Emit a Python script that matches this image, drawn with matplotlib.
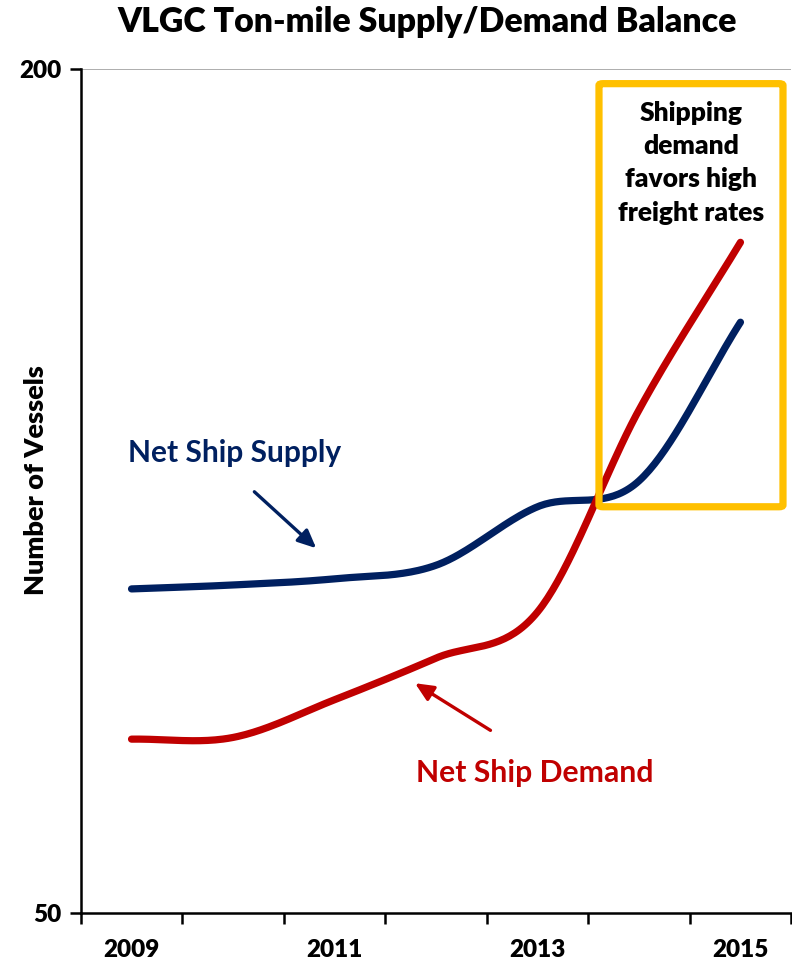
import numpy as np
import matplotlib.pyplot as plt
from matplotlib.patches import FancyBboxPatch

anos = ['2009', '2010', '2011', '2012', '2013', '2014', '2015']
oferta = [107.6, 108.3, 109.4, 111.8, 122.2, 126.8, 155.0]
demanda = [80.9, 81.2, 87.9, 95.3, 103.5, 139.4, 169.2]

azul = '#002060'
vermelho = '#C00000'
amarelo = '#FFC000'
fonte = 'Lato'
peso = 'heavy'


def suavizar(valores, passos=40):
    # curva suavizada tipo Catmull-Rom (como a linha suave do Excel)
    y = np.asarray(valores, dtype=float)
    n = len(y)
    tang = np.empty(n)
    tang[1:-1] = (y[2:] - y[:-2]) / 2
    tang[0] = y[1] - y[0]
    tang[-1] = y[-1] - y[-2]
    xs, ys = [], []
    for i in range(n - 1):
        t = np.linspace(0, 1, passos, endpoint=(i == n - 2))
        h00 = 2 * t**3 - 3 * t**2 + 1
        h10 = t**3 - 2 * t**2 + t
        h01 = -2 * t**3 + 3 * t**2
        h11 = t**3 - t**2
        xs.append(i + t)
        ys.append(h00 * y[i] + h10 * tang[i] + h01 * y[i + 1] + h11 * tang[i + 1])
    return np.concatenate(xs), np.concatenate(ys)


fig = plt.figure(figsize=(7.92, 9.64), dpi=100)
ax = fig.add_axes([0.102, 0.0529, 0.897, 0.8755])

x_o, y_o = suavizar(oferta)
x_d, y_d = suavizar(demanda)
ax.plot(x_o, y_o, color=azul, lw=5.2, solid_capstyle='round', zorder=3)
ax.plot(x_d, y_d, color=vermelho, lw=5.2, solid_capstyle='round', zorder=3)

ax.set_xlim(-0.5, len(anos) - 0.5)
ax.set_ylim(50, 200)
ax.axhline(200, color='#a0a0a0', lw=1.2, zorder=1)

# caixa amarela destacando o final do período
caixa = FancyBboxPatch((4.606, 122.2), 6.419 - 4.606, 197.4 - 122.2,
                       boxstyle='round,pad=0,rounding_size=0.04',
                       fill=False, edgecolor=amarelo, lw=5.2, zorder=4,
                       mutation_aspect=8)
ax.add_patch(caixa)
ax.text(5.51, 194.4, 'Shipping\ndemand\nfavors high\nfreight rates',
        ha='center', va='top', fontsize=19, fontweight=peso,
        family=fonte, linespacing=1.47, zorder=5)

ax.text(-0.03, 131.7, 'Net Ship Supply', color=azul, fontsize=21.5,
        fontweight='bold', family=fonte, va='center', ha='left')
ax.annotate('', xy=(1.84, 114.5), xytext=(1.19, 125.2),
            arrowprops=dict(arrowstyle='-|>,head_length=1.1,head_width=0.5',
                            color=azul, lw=2.4))
ax.text(2.8, 74.9, 'Net Ship Demand', color=vermelho, fontsize=21.7,
        fontweight='bold', family=fonte, va='center', ha='left')
ax.annotate('', xy=(2.77, 91.1), xytext=(3.56, 82.2),
            arrowprops=dict(arrowstyle='-|>,head_length=1.1,head_width=0.5',
                            color=vermelho, lw=2.4))

# eixo de categorias com marcas entre os anos
ax.set_xticks(np.arange(len(anos)))
ax.set_xticklabels([a if i % 2 == 0 else '' for i, a in enumerate(anos)])
ax.set_xticks(np.arange(-0.5, len(anos)), minor=True)
ax.tick_params(axis='x', which='major', length=0, pad=19)
ax.tick_params(axis='x', which='minor', length=8, width=1.8, direction='out')
ax.set_yticks([50, 200])
ax.tick_params(axis='y', length=8, width=1.8, direction='out', pad=6)
for rot in ax.get_xticklabels() + ax.get_yticklabels():
    rot.set_fontsize(17.5)
    rot.set_fontweight(peso)
    rot.set_family(fonte)

for lado in ['top', 'right']:
    ax.spines[lado].set_visible(False)
for lado in ['left', 'bottom']:
    ax.spines[lado].set_linewidth(1.8)

fig.text(0.045, 0.502, 'Number of Vessels', rotation=90, ha='center',
         va='center', fontsize=19.5, fontweight=peso, family=fonte)
fig.text(0.539, 0.977, 'VLGC Ton-mile Supply/Demand Balance', ha='center',
         va='center', fontsize=24.4, fontweight=peso, family=fonte)

fig.savefig('out.png', dpi=100)
plt.close(fig)
